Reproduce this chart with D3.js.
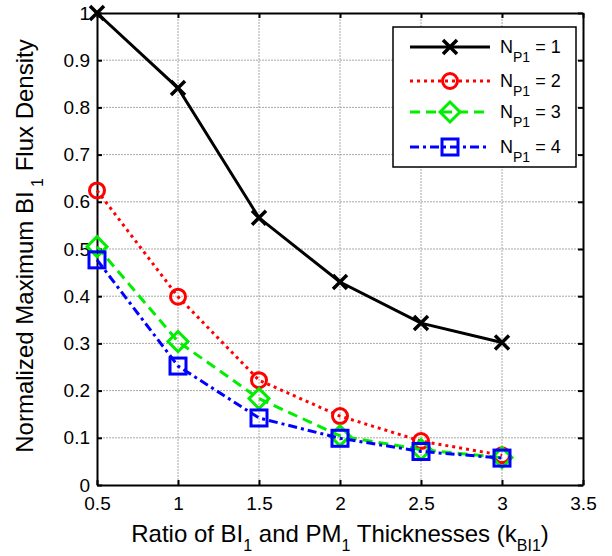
<!DOCTYPE html>
<html>
<head>
<meta charset="utf-8">
<script src="https://cdn.jsdelivr.net/npm/d3@7"></script>
<style>
  body { margin: 0; background: #fff; }
  svg { font-family: "Liberation Sans", Arial, sans-serif; }
</style>
</head>
<body>
<div id="chart"></div>
<script>
// data
let ratios = [0.5, 1, 1.5, 2, 2.5, 3];
let np1 = [1.0, 0.841, 0.566, 0.430, 0.343, 0.302];
let np2 = [0.624, 0.399, 0.222, 0.146, 0.093, 0.063];
let np3 = [0.505, 0.304, 0.183, 0.104, 0.075, 0.058];
let np4 = [0.477, 0.252, 0.142, 0.099, 0.071, 0.057];
let seriesNames = ["1", "2", "3", "4"];
let xTicks = [0.5, 1, 1.5, 2, 2.5, 3, 3.5];
let yTicks = [0, 0.1, 0.2, 0.3, 0.4, 0.5, 0.6, 0.7, 0.8, 0.9, 1];

let W = 612, H = 556;
let margin = {top: 13, right: 29, bottom: 71, left: 97};
let width = W - margin.left - margin.right;
let height = H - margin.top - margin.bottom;

let svg = d3.select("#chart").append("svg")
    .attr("width", W).attr("height", H);
let g = svg.append("g")
    .attr("transform", "translate(" + margin.left + "," + margin.top + ")");

let x = d3.scaleLinear().domain([0.5, 3.5]).range([0, width]);
let y = d3.scaleLinear().domain([0, 1]).range([height, 0]);

// grid
g.append("g").selectAll("line").data(xTicks.slice(1, -1)).join("line")
    .attr("x1", d => x(d)).attr("x2", d => x(d))
    .attr("y1", 0).attr("y2", height)
    .attr("stroke", "#a8a8a8").attr("stroke-width", 1).attr("stroke-dasharray", "2,1");
g.append("g").selectAll("line").data(yTicks.slice(1, -1)).join("line")
    .attr("y1", d => y(d)).attr("y2", d => y(d))
    .attr("x1", 0).attr("x2", width)
    .attr("stroke", "#a8a8a8").attr("stroke-width", 1).attr("stroke-dasharray", "2,1");

// axes with inward ticks on all sides
let fmt = d3.format("~g");
let ax = g.append("g").attr("transform", "translate(0," + height + ")")
    .call(d3.axisBottom(x).tickValues(xTicks).tickFormat(fmt).tickSizeInner(-5).tickSizeOuter(0).tickPadding(12));
let ay = g.append("g")
    .call(d3.axisLeft(y).tickValues(yTicks).tickFormat(fmt).tickSizeInner(-5).tickSizeOuter(0).tickPadding(7));
let axt = g.append("g")
    .call(d3.axisTop(x).tickValues(xTicks).tickFormat("").tickSizeInner(-5).tickSizeOuter(0));
let ayr = g.append("g").attr("transform", "translate(" + width + ",0)")
    .call(d3.axisRight(y).tickValues(yTicks).tickFormat("").tickSizeInner(-5).tickSizeOuter(0));
[ax, ay, axt, ayr].forEach(a => {
    a.selectAll(".domain").attr("stroke", "#000").attr("stroke-width", 2);
    a.selectAll(".tick line").attr("stroke", "#000").attr("stroke-width", 2);
    a.selectAll("text").attr("font-size", 19).attr("fill", "#000")
        .attr("font-family", "Liberation Sans, Arial, sans-serif");
});

// series
let styles = [
    {data: np1, color: "#000", dash: null, marker: "x"},
    {data: np2, color: "#ff0000", dash: "3,4", marker: "o"},
    {data: np3, color: "#00ee00", dash: "10,6", marker: "d"},
    {data: np4, color: "#0000ff", dash: "9,4,3,4", marker: "s"}
];

function drawMarker(sel, type, color) {
    if (type == "x") {
        sel.append("path").attr("d", "M-7,-7L7,7M-7,7L7,-7")
            .attr("stroke", color).attr("stroke-width", 3.5).attr("fill", "none");
    } else if (type == "o") {
        sel.append("circle").attr("r", 7.5)
            .attr("stroke", color).attr("stroke-width", 3).attr("fill", "none");
    } else if (type == "d") {
        sel.append("path").attr("d", "M0,-10L10,0L0,10L-10,0Z")
            .attr("stroke", color).attr("stroke-width", 3).attr("fill", "none");
    } else {
        sel.append("rect").attr("x", -8).attr("y", -8).attr("width", 16).attr("height", 16)
            .attr("stroke", color).attr("stroke-width", 3).attr("fill", "none");
    }
}

let line = d3.line()
    .x((d, i) => x(ratios[i]))
    .y(d => y(d));

styles.forEach(s => {
    g.append("path").datum(s.data)
        .attr("fill", "none")
        .attr("stroke", s.color)
        .attr("stroke-width", 3)
        .attr("stroke-dasharray", s.dash)
        .attr("d", line);
    s.data.forEach((v, i) => {
        let m = g.append("g").attr("transform", "translate(" + x(ratios[i]) + "," + y(v) + ")");
        drawMarker(m, s.marker, s.color);
    });
});

// legend
let lg = svg.append("g").attr("transform", "translate(393,27)");
lg.append("rect").attr("width", 183).attr("height", 140)
    .attr("fill", "#fff").attr("stroke", "#000").attr("stroke-width", 1.5);
let legY = [20, 54, 85, 120];
styles.forEach((s, i) => {
    let row = lg.append("g").attr("transform", "translate(0," + legY[i] + ")");
    row.append("line").attr("x1", 17).attr("x2", 97)
        .attr("stroke", s.color).attr("stroke-width", 3).attr("stroke-dasharray", s.dash);
    let m = row.append("g").attr("transform", "translate(57,0)");
    drawMarker(m, s.marker, s.color);
    let t = row.append("text").attr("x", 107).attr("y", 6).attr("font-size", 18).attr("fill", "#000");
    t.append("tspan").text("N");
    t.append("tspan").attr("font-size", 14).attr("dy", 9).text("P1");
    t.append("tspan").attr("dy", -9).text(" = " + seriesNames[i]);
});

// axis labels
let xl = svg.append("text").attr("x", 340).attr("y", 542)
    .attr("text-anchor", "middle").attr("font-size", 24).attr("fill", "#000");
xl.append("tspan").text("Ratio of BI");
xl.append("tspan").attr("font-size", 16).attr("dy", 9).text("1");
xl.append("tspan").attr("dy", -9).text(" and PM");
xl.append("tspan").attr("font-size", 16).attr("dy", 9).text("1");
xl.append("tspan").attr("dy", -9).text(" Thicknesses (k");
xl.append("tspan").attr("font-size", 16).attr("dy", 9).text("BI1");
xl.append("tspan").attr("dy", -9).text(")");

let yl = svg.append("text")
    .attr("transform", "translate(33,246) rotate(-90)")
    .attr("text-anchor", "middle").attr("font-size", 24).attr("fill", "#000");
yl.append("tspan").text("Normalized Maximum BI");
yl.append("tspan").attr("font-size", 16).attr("dy", 10).text(" 1");
yl.append("tspan").attr("dy", -10).text("  Flux Density");
</script>
</body>
</html>
